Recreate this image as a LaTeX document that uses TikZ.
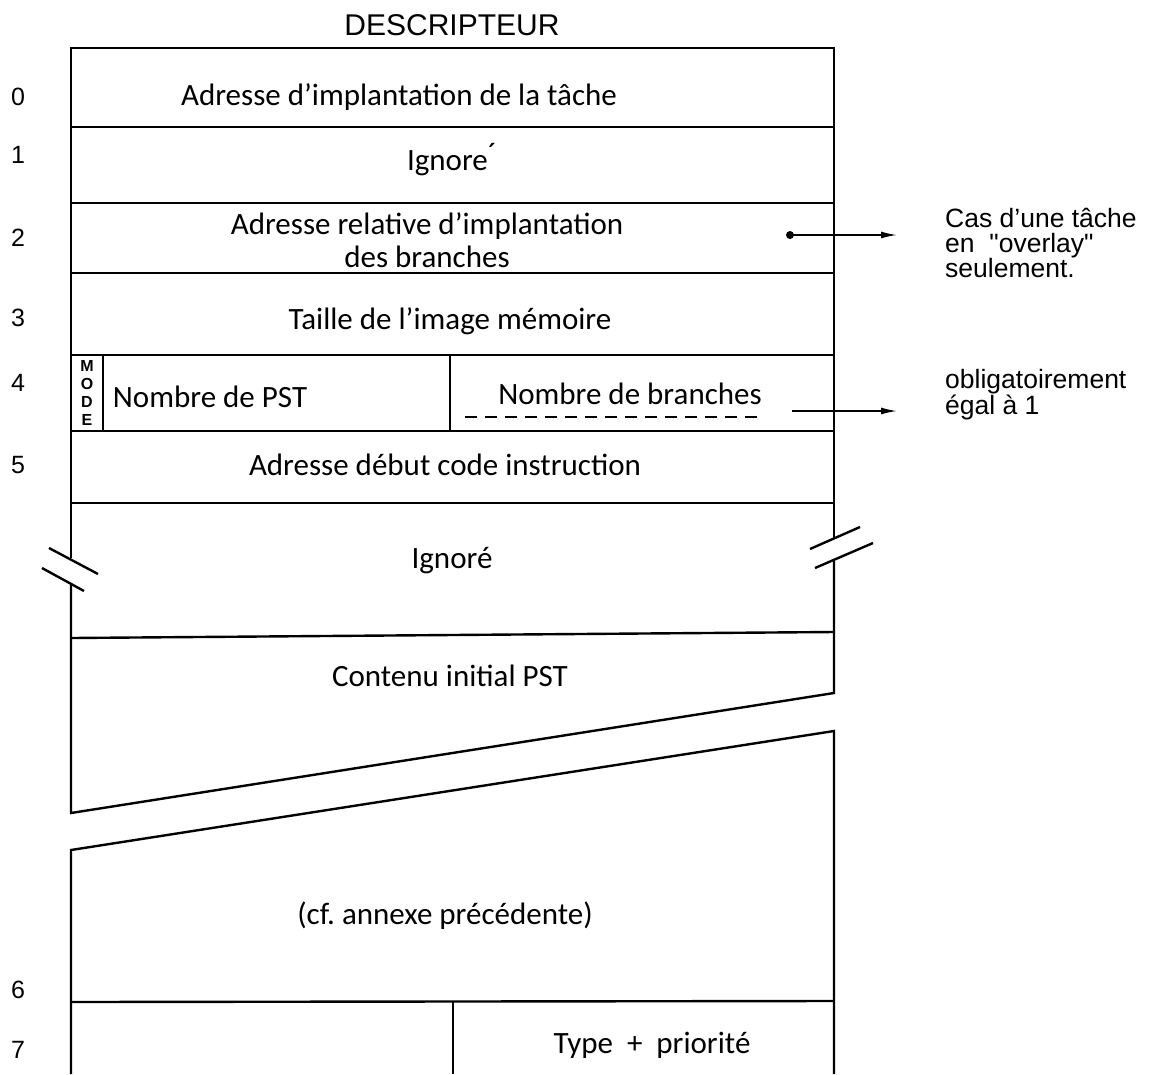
\documentclass[tikz,border=0pt]{standalone}
\usepackage{fontspec}
\setmainfont{Carlito}
\newfontfamily\notas{Liberation Sans}
\usetikzlibrary{arrows.meta}

\begin{document}
\begin{tikzpicture}[x=1pt, y=-1pt,
    linea/.style={line width=2.4pt, line join=miter},
    texto/.style={font=\fontsize{31}{33}\selectfont, inner sep=0pt, align=center},
    nota/.style={font=\notas\fontsize{26.5}{25}\selectfont, inner sep=0pt, align=left, anchor=west},
    numero/.style={font=\notas\fontsize{25}{26}\selectfont, inner sep=0pt},
    flecha/.style={line width=1.6pt, -{Latex[length=16pt, width=7pt]}}]
    \useasboundingbox (0,0) rectangle (1154,1074);

    % Titulo
    \node[font=\notas\fontsize{30}{30}\selectfont, inner sep=0pt] (titulo) at (452,25) {DESCRIPTEUR};

    % Contornos: parte de arriba
    \draw[linea] (71,558) -- (71,48) -- (834,48) -- (834,538);
    \draw[linea] (71,585) -- (71,813) -- (834,693) -- (834,561);
    % Contornos: parte de abajo
    \draw[linea] (71,1074) -- (71,850) -- (834,731) -- (834,1074);

    % Lineas entre palabras
    \draw[linea] (71,127) -- (834,127);
    \draw[linea] (71,203) -- (834,203);
    \draw[linea] (71,273) -- (834,273);
    \draw[linea] (71,355) -- (834,355);
    \draw[linea] (71,431) -- (834,431);
    \draw[linea] (71,503) -- (834,503);
    \draw[linea] (71,638) -- (834,632);
    \draw[linea] (71,1002) -- (834,1001);
    \draw[linea] (103,355) -- (103,431);
    \draw[linea] (450,355) -- (450,431);
    \draw[linea] (453,1001) -- (453,1074);

    % Cortes
    \draw[linea] (49,548) -- (98,574);
    \draw[linea] (42,568) -- (84,591);
    \draw[linea] (810,549) -- (860,527);
    \draw[linea] (815,568) -- (873,543);

    % Contenido
    \node[texto] (adr) at (399,97) {Adresse d’implantation de la tâche};
    \node[texto] (ign1) at (452,160) {Ignore\raisebox{6pt}{´}};
    \node[texto] (rel) at (427,240) {Adresse relative d’implantation\\des branches};
    \node[texto] (taille) at (450,321) {Taille de l’image mémoire};
    \node[font=\notas\bfseries\fontsize{16}{18}\selectfont, inner sep=0pt, align=center]
        (mode) at (87,393) {M\\O\\D\\E};
    \node[texto] (pst) at (210,397) {Nombre de PST};
    \node[texto] (nbr) at (630,394) {Nombre de branches};
    \draw[line width=1.6pt, dash pattern=on 12pt off 8pt] (465,417) -- (760,417);
    \node[texto] (debut) at (445,465) {Adresse début code instruction};
    \node[texto] (ign2) at (452,561) {Ignoré};
    \node[texto] (cont) at (450,676) {Contenu initial PST};
    \node[texto] (cf) at (445,916) {(cf.\ annexe précédente)};
    \node[texto] (type) at (652,1045) {Type \ + \ priorité};

    % Numeros
    \node[numero] (n0) at (18,97) {0};
    \node[numero] (n1) at (18,155) {1};
    \node[numero] (n2) at (18,238) {2};
    \node[numero] (n3) at (18,318) {3};
    \node[numero] (n4) at (18,383) {4};
    \node[numero] (n5) at (18,465) {5};
    \node[numero] (n6) at (18,990) {6};
    \node[numero] (n7) at (18,1050) {7};

    % Notas a la derecha
    \coordinate (puntoA) at (790,235);
    \coordinate (puntaA) at (897,235);
    \coordinate (puntoB) at (792,411);
    \coordinate (puntaB) at (897,411);
    \fill (puntoA) circle (4);
    \draw[flecha] (puntoA) -- (puntaA);
    \draw[flecha] (puntoB) -- (puntaB);
    \node[nota] (overlay) at (945,243) {Cas d’une tâche\\en \ "overlay"\\seulement.};
    \node[nota] (egal) at (945,395) {obligatoirement\\égal à 1};
\end{tikzpicture}
\end{document}
